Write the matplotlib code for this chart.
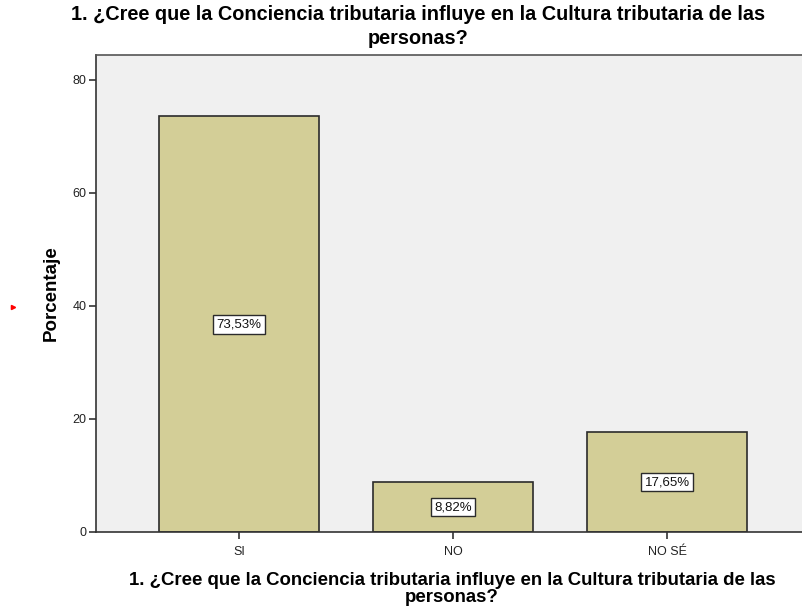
import matplotlib
matplotlib.use("Agg")
import matplotlib.pyplot as plt
from matplotlib.lines import Line2D

categories = ["SI", "NO", "NO SÉ"]
percentages = [73.53, 8.82, 17.65]
value_labels = ["73,53%", "8,82%", "17,65%"]
y_ticks = [0, 20, 40, 60, 80]
title_text = "1. ¿Cree que la Conciencia tributaria influye en la Cultura tributaria de las\npersonas?"
xlabel_text = "1. ¿Cree que la Conciencia tributaria influye en la Cultura tributaria de las\npersonas?"
ylabel_text = "Porcentaje"

plt.rcParams['font.family'] = ['Liberation Sans', 'DejaVu Sans']

W, H = 803, 610
fig = plt.figure(figsize=(W / 100, H / 100), dpi=100)
fig.patch.set_facecolor("white")

ax_l, ax_r, ax_t, ax_b = 96, 810, 55, 532
ax = fig.add_axes([ax_l / W, (H - ax_b) / H, (ax_r - ax_l) / W, (ax_b - ax_t) / H])
ax.set_facecolor("#F0F0F0")

x = list(range(len(categories)))
ax.bar(x, percentages, width=0.75, color="#D3CE97", edgecolor="#2B2B2B", linewidth=1.2, zorder=2)

for xi, v, lab in zip(x, percentages, value_labels):
    ax.text(xi, v / 2, lab, ha="center", va="center", fontsize=9.5, color="#111111", zorder=3,
            bbox=dict(boxstyle="square,pad=0.25", facecolor="white", edgecolor="#2B2B2B", linewidth=1.0))

ax.set_xlim(-0.668, 2.668)
ax.set_ylim(0, 84.4)
ax.set_xticks(x)
ax.set_xticklabels(categories, fontsize=9, color="#222222")
ax.set_yticks(y_ticks)
ax.set_yticklabels([str(t) for t in y_ticks], fontsize=9, color="#222222")
ax.tick_params(axis="both", direction="out", length=5, width=1.2, color="#333333", pad=2)
ax.tick_params(axis="x", pad=5)

for side in ["left", "bottom", "top", "right"]:
    ax.spines[side].set_color("#333333")
    ax.spines[side].set_linewidth(1.2)
ax.spines["top"].set_color("#555555")

ax.set_ylabel(ylabel_text, fontsize=13.5, fontweight="bold", labelpad=9)

fig.text(452 / W, 1 - 572 / H, xlabel_text, ha="center", va="top", fontsize=13.4, fontweight="bold",
         linespacing=1.0)

fig.text(418.5 / W, 1 - 5 / H, title_text, ha="center", va="top", fontsize=14.3, fontweight="bold",
         linespacing=1.3)

fig.add_artist(Line2D([13 / W], [1 - 307 / H], marker=">", markersize=3, color="red",
                      linestyle="none", transform=fig.transFigure))

fig.savefig("out.png", dpi=100)
